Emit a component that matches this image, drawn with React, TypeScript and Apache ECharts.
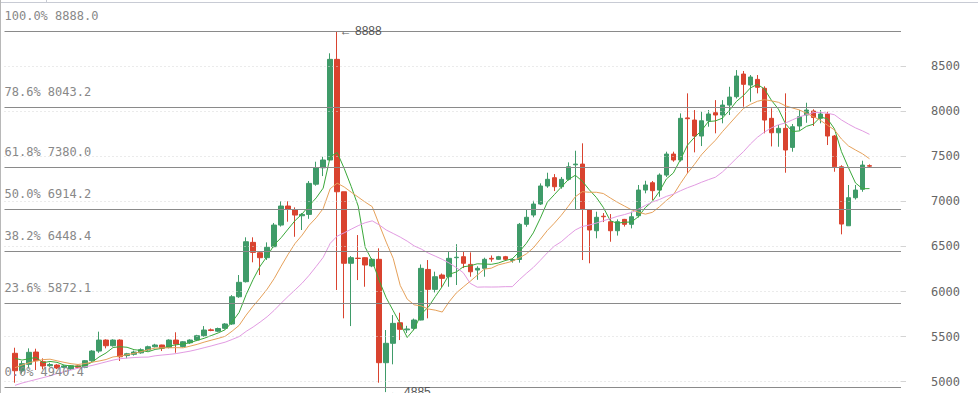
import { useEffect, useRef } from 'react';
import * as echarts from 'echarts';

// ---- data (one entry per candle) ----
const opens = [5315, 5125, 5193, 5329, 5222, 5177, 5185, 5160, 5141, 5175, 5160, 5233, 5340, 5462, 5399, 5462, 5290, 5304, 5320, 5351, 5388, 5407, 5380, 5462, 5390, 5432, 5462, 5510, 5575, 5560, 5592, 5640, 5942, 6109, 6545, 6430, 6375, 6497, 6737, 6948, 6904, 6840, 6855, 7190, 7372, 7458, 8574, 7106, 6313, 6370, 6375, 6283, 6357, 5211, 5426, 5654, 5575, 5592, 5684, 6245, 6024, 6183, 6164, 6375, 6386, 6301, 6238, 6257, 6368, 6357, 6386, 6345, 6355, 6745, 6848, 6970, 7170, 7262, 7162, 7244, 7405, 7413, 6904, 6674, 6835, 6774, 6674, 6800, 6745, 6840, 7125, 7206, 7125, 7291, 7524, 7458, 7925, 7901, 7724, 7893, 7982, 7957, 8067, 8160, 8411, 8289, 8352, 8253, 7920, 7760, 7809, 7598, 7835, 7957, 8001, 7920, 7968, 7724, 7383, 6729, 7040, 7133, 7395];
const closes = [5122, 5200, 5326, 5233, 5174, 5190, 5152, 5175, 5177, 5160, 5233, 5340, 5462, 5399, 5462, 5277, 5310, 5329, 5355, 5388, 5407, 5370, 5462, 5418, 5443, 5462, 5510, 5573, 5568, 5590, 5640, 5942, 6102, 6552, 6434, 6375, 6490, 6737, 6948, 6915, 6848, 6855, 7199, 7372, 7458, 8574, 7106, 6313, 6375, 6366, 6294, 6357, 5211, 5426, 5647, 5581, 5585, 5684, 6257, 6024, 6164, 6146, 6368, 6380, 6313, 6219, 6257, 6357, 6360, 6386, 6357, 6355, 6745, 6823, 6970, 7170, 7244, 7162, 7244, 7383, 7413, 6915, 6682, 6823, 6829, 6674, 6774, 6745, 6829, 7125, 7181, 7118, 7291, 7524, 7458, 7920, 7916, 7724, 7893, 7968, 7957, 8067, 8156, 8389, 8297, 8378, 8264, 7901, 7760, 7809, 7569, 7827, 7938, 8012, 7930, 7968, 7724, 7383, 6748, 7040, 7125, 7402, 7390];
const lows = [4989, 5090, 5148, 5130, 5137, 5165, 5140, 5150, 5130, 5150, 5150, 5220, 5320, 5370, 5390, 5230, 5260, 5290, 5310, 5340, 5380, 5340, 5370, 5321, 5380, 5420, 5450, 5500, 5560, 5550, 5580, 5630, 5930, 6100, 6324, 6183, 6350, 6490, 6720, 6774, 6607, 6682, 6806, 7173, 7280, 7458, 6017, 5703, 5617, 6127, 6053, 6270, 4989, 4885, 5193, 5462, 5540, 5570, 5680, 5703, 5990, 6050, 6053, 6072, 6260, 6164, 6130, 6164, 6330, 6350, 6340, 6320, 6320, 6718, 6823, 6959, 7150, 7114, 7140, 7230, 6915, 6349, 6313, 6590, 6770, 6552, 6620, 6720, 6700, 6820, 7089, 7014, 7051, 7270, 7439, 7440, 7310, 7543, 7613, 7827, 7754, 7865, 7957, 8140, 8049, 8104, 8197, 7754, 7609, 7605, 7317, 7550, 7783, 7871, 7835, 7865, 7624, 7328, 6634, 6729, 7020, 7106, 7370];
const highs = [5377, 5230, 5370, 5366, 5259, 5210, 5195, 5185, 5185, 5180, 5240, 5350, 5555, 5470, 5470, 5470, 5320, 5345, 5370, 5400, 5420, 5410, 5470, 5548, 5450, 5470, 5520, 5617, 5590, 5600, 5650, 5960, 6183, 6601, 6601, 6440, 6545, 6760, 7003, 7000, 6933, 6870, 7225, 7439, 7494, 8641, 8888, 7106, 6393, 6626, 6380, 6370, 6479, 5573, 5739, 5765, 5620, 5700, 6300, 6349, 6220, 6200, 6441, 6525, 6441, 6434, 6280, 6375, 6400, 6395, 6395, 6370, 6760, 6904, 7006, 7199, 7317, 7302, 7270, 7432, 7561, 7643, 6910, 6885, 6870, 6859, 6800, 6805, 6885, 7181, 7228, 7225, 7310, 7550, 7550, 7975, 8197, 8012, 7993, 8012, 8122, 8122, 8270, 8455, 8445, 8400, 8400, 8275, 8031, 7846, 8197, 7857, 8012, 8093, 8020, 8012, 7993, 7735, 7400, 7181, 7181, 7450, 7410];

// moving-average values at the start of the window (read from the picture,
// their windows reach back before the first visible candle)
const ma5Start = [5260, 5240, 5255, 5270];
const ma10Start = [5155, 5185, 5210, 5230, 5245, 5250, 5232, 5215, 5200];
const ma20Start = [4960, 4985, 5005, 5025, 5045, 5065, 5090, 5110, 5130, 5150, 5165, 5180, 5200, 5220, 5240, 5255, 5262, 5268, 5272];

const yTicks = [5000, 5500, 6000, 6500, 7000, 7500, 8000, 8500];
const yMin = 4875;
const yMax = 9232;
const fibPercents = ['100.0%', '78.6%', '61.8%', '50.0%', '38.2%', '23.6%', '0.0%'];
const fibValues = [8888.0, 8043.2, 7380.0, 6914.2, 6448.4, 5872.1, 4940.4];
const highMark = 8888;
const lowMark = 4885;
const lastPrice = 7390;

const leadSlots = 1;
const trailSlots = 4;
const totalSlots = leadSlots + opens.length + trailSlots;
const categories = Array.from({ length: totalSlots }, (_, i) => `d${i}`);

const UP = '#3f9b69';
const DOWN = '#d9432f';

function movingAverage(n: number, start: number[]) {
  return closes.map((_, i) => {
    if (i < n - 1) return [categories[i + leadSlots], start[i]];
    let s = 0;
    for (let k = i - n + 1; k <= i; k++) s += closes[k];
    return [categories[i + leadSlots], +(s / n).toFixed(1)];
  });
}

export default function App() {
  const ref = useRef<HTMLDivElement>(null);
  useEffect(() => {
    if (!ref.current) return;
    const chart = echarts.init(ref.current, null, { renderer: 'svg' });
    const mono = 'DejaVu Sans Mono';
    const candleData = opens.map((o, i) => [categories[i + leadSlots], o, closes[i], lows[i], highs[i]]);
    const hiIdx = highs.indexOf(highMark);
    const loIdx = lows.indexOf(lowMark);

    chart.setOption({
      animation: false,
      grid: { left: 4.5, right: 77, top: 0, bottom: 0, containLabel: false },
      xAxis: {
        type: 'category',
        data: categories,
        boundaryGap: true,
        show: false,
      },
      yAxis: {
        type: 'value',
        position: 'right',
        min: yMin,
        max: yMax,
        axisLine: { show: false },
        axisTick: { show: true, length: 5, customValues: yTicks, lineStyle: { color: '#d4d4d4' } },
        axisLabel: {
          customValues: yTicks,
          formatter: (v: number) => (yTicks.includes(v) ? String(v) : ''),
          margin: 30,
          color: '#666',
          fontFamily: mono,
          fontSize: 12,
        },
        splitLine: { show: false },
      },
      graphic: [
        { type: 'line', shape: { x1: 0, y1: 2.5, x2: 978, y2: 2.5 }, style: { stroke: '#c8cbd4', lineWidth: 1 }, silent: true },
        { type: 'line', shape: { x1: 0.5, y1: 0, x2: 0.5, y2: 393 }, style: { stroke: '#b8b8b8', lineWidth: 1 }, silent: true },
        { type: 'line', shape: { x1: 46.5, y1: 0, x2: 46.5, y2: 2.5 }, style: { stroke: '#c8cbd4', lineWidth: 1 }, silent: true },
      ],
      series: [
        {
          name: 'grid',
          type: 'line',
          data: [],
          z: 1,
          silent: true,
          markLine: {
            silent: true,
            symbol: ['none', 'none'],
            label: { show: false },
            lineStyle: { color: '#d6d6d6', type: [1, 3], width: 1 },
            data: yTicks.map((v) => ({ yAxis: v })),
          },
        },
        {
          name: 'fib',
          type: 'line',
          data: [],
          z: 2,
          silent: true,
          markLine: {
            silent: true,
            symbol: ['none', 'none'],
            lineStyle: { color: '#8a8a8a', type: 'solid', width: 1.2 },
            label: {
              show: true,
              position: 'insideStartTop',
              distance: [0, 9],
              color: '#888',
              fontFamily: mono,
              fontSize: 12,
            },
            data: fibValues.map((v, i) => ({
              yAxis: v,
              label: { formatter: `${fibPercents[i]} ${v.toFixed(1)}` },
            })),
          },
        },
        {
          name: 'K',
          type: 'candlestick',
          data: candleData,
          encode: { x: 0, y: [1, 2, 3, 4] },
          barWidth: 5,
          z: 3,
          itemStyle: { color: UP, color0: DOWN, borderColor: UP, borderColor0: DOWN, borderWidth: 1 },
          markPoint: {
            symbol: 'rect',
            symbolSize: 1,
            itemStyle: { color: 'rgba(0,0,0,0)' },
            label: {
              show: true,
              position: 'right',
              distance: 2,
              color: '#555',
              fontFamily: 'Liberation Sans',
              fontSize: 12,
            },
            data: [
              { coord: [categories[hiIdx + leadSlots], highMark], label: { formatter: `← ${highMark}` } },
              { coord: [categories[loIdx + leadSlots], lowMark], label: { formatter: `← ${lowMark}` } },
            ],
          },
          markLine: {
            silent: true,
            symbol: ['none', 'none'],
            lineStyle: { opacity: 0 },
            label: {
              show: true,
              position: 'end',
              distance: 1,
              color: '#ef8a45',
              fontFamily: mono,
              fontSize: 12,
              formatter: `←${lastPrice}`,
            },
            data: [{ yAxis: lastPrice }],
          },
        },
        {
          name: 'MA5',
          type: 'line',
          data: movingAverage(5, ma5Start),
          symbol: 'none',
          z: 4,
          lineStyle: { color: '#3aa83a', width: 1 },
        },
        {
          name: 'MA10',
          type: 'line',
          data: movingAverage(10, ma10Start),
          symbol: 'none',
          z: 4,
          lineStyle: { color: '#e6a15a', width: 1 },
        },
        {
          name: 'MA20',
          type: 'line',
          data: movingAverage(20, ma20Start),
          symbol: 'none',
          z: 4,
          lineStyle: { color: '#e29be2', width: 1 },
        },
      ],
    });
    return () => chart.dispose();
  }, []);
  return (
    <div
      ref={ref}
      style={{ position: 'fixed', left: 0, top: 0, width: 978, height: 393, background: '#fff' }}
    />
  );
}
